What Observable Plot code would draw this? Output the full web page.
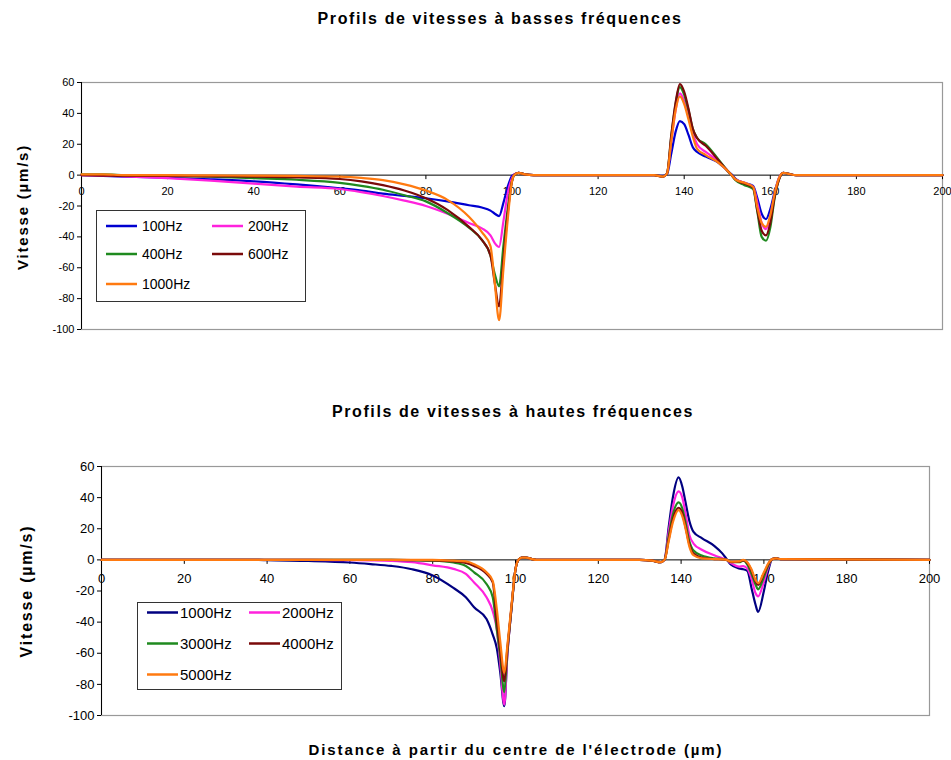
<!DOCTYPE html>
<html><head><meta charset="utf-8">
<script src="https://cdn.jsdelivr.net/npm/d3@7"></script>
<script src="https://cdn.jsdelivr.net/npm/@observablehq/plot@0.6"></script>
<style>
body{margin:0;background:#fff;font-family:"Liberation Sans",Arial,sans-serif;}
#wrap{position:relative;width:951px;height:760px;overflow:hidden;background:#fff;}
.ttl{position:absolute;font-weight:bold;white-space:nowrap;color:#000;transform:translate(-50%,-50%);}
.ylab{position:absolute;font-weight:bold;white-space:nowrap;color:#000;transform:translate(-50%,-50%) rotate(-90deg);}
.chart{position:absolute;left:0;}
.legend{position:absolute;border:1px solid #333;background:#fff;box-sizing:border-box;}
.item{position:absolute;display:flex;align-items:center;transform:translateY(-50%);white-space:nowrap;color:#000;}
.item svg{display:block;}
</style></head><body><div id="wrap"></div>
<script>
// ---------- data ----------
const xTicks = [0, 20, 40, 60, 80, 100, 120, 140, 160, 180, 200];
const yTicks = [-100, -80, -60, -40, -20, 0, 20, 40, 60];

// low frequencies
const lowLabels = ["100Hz", "200Hz", "400Hz", "600Hz", "1000Hz"];
const xLow = [0, 5, 10, 20, 30, 40, 50, 60, 65, 70, 75, 80, 85, 90, 93, 95, 96, 97, 98, 99, 100, 100.5, 101.5, 103, 105, 130, 133, 135, 136, 137, 138, 139, 140, 141, 142, 143, 145, 148, 150, 151, 152, 154, 156, 157, 158, 159, 160, 161, 162, 163, 164, 166, 200];
const v100 = [0, -0.5, -1, -1.7, -2.7, -4, -6, -8.5, -10, -12, -13.5, -15, -17, -19.5, -21, -23, -25, -26.5, -18, -7.5, -0.5, 0.5, 1.5, 0.5, 0, 0, 0, -0.5, 0.5, 14, 28, 35, 33, 26, 18, 15, 12, 8, 3, 0.5, -2.5, -5, -7, -15, -25, -28.5, -22, -11, -2, 1.5, 1, 0, 0];
const v200 = [0, -0.3, -0.8, -2, -3.5, -5.5, -7.5, -9, -11, -13.5, -16.5, -20, -25, -31, -34.5, -39, -44, -46.5, -30, -12, -2, 0.5, 1.5, 0.5, 0, 0, 0, -1, 1, 22, 42, 53, 48, 38, 27, 20, 15, 9, 3, 0, -3, -5, -7.5, -18, -31, -35, -27, -13, -2, 1.5, 1, 0, 0];
const v400 = [0.5, 0.5, 0, -0.5, -1, -2, -3, -5, -7, -9.5, -13, -17, -24.5, -34, -42, -52, -64, -72, -46, -22, -4, 0, 1.5, 0.5, 0, 0, 0, -1, 1, 25, 46, 57, 52, 42, 30, 24, 20, 10, 3, 0, -3.5, -6.5, -9, -24, -40, -42.5, -34, -15, -3, 1.5, 1, 0, 0];
const v600 = [0, -0.3, -0.5, -0.5, -0.8, -1, -1.5, -2.5, -4, -6.5, -10, -15, -22.5, -33.5, -42, -52, -70, -85, -55, -25, -4, 0, 1.5, 0.5, 0, 0, 0, -1, 1, 26, 47, 59, 54, 43, 30, 24, 19, 9.5, 3, 0, -3, -5.5, -8, -23, -36, -39, -31, -14, -3, 1.5, 1, 0, 0];
const v1000 = [0.5, 0.5, 0, 0, -0.2, -0.3, -0.5, -1, -1.8, -3.2, -6, -10, -16, -27, -37, -46, -70, -94, -61, -29, -4, 0, 1.5, 0.5, 0, 0, 0, -1, 1, 22, 42, 51, 46, 36, 25, 17, 13, 8, 3, 0, -3, -5, -7.5, -21, -31, -33.5, -26, -12, -2, 1.5, 1, 0, 0];

// high frequencies
const highLabels = ["1000Hz", "2000Hz", "3000Hz", "4000Hz", "5000Hz"];
const xHigh = [0, 38, 40, 50, 60, 65, 70, 75, 80, 85, 88, 90, 93, 94.5, 95.5, 96.3, 97.3, 98, 99, 100, 100.7, 101.5, 102.5, 104, 105, 130, 133, 135, 136, 137, 138, 139.4, 140.3, 141, 142, 143, 145, 148, 150, 151, 152, 154, 155, 156, 157, 158, 158.6, 160, 161, 162, 163, 164, 200];
const h1000 = [0, 0, -0.2, -0.7, -1.7, -2.7, -3.9, -6, -10, -18, -24, -30.5, -38, -48, -57, -72, -94, -62, -32, -6, 0, 1.5, 1.5, 0.5, 0, 0, -0.5, -1.5, 0, 21, 40, 53, 47, 38, 25, 18, 14, 9, 4, 0.5, -3, -5.5, -6, -7, -18, -29, -33.5, -20, -7.5, 0.5, 1, 0.5, 0];
const h2000 = [0, 0, 0, 0, -0.2, -0.3, -0.6, -1.5, -3.5, -5.8, -9, -14.5, -24, -33, -45, -66, -93, -62, -32, -6, 0, 1.5, 1.5, 0.5, 0, 0, -0.5, -1.5, 0, 18, 34, 44, 40, 31, 16, 10.5, 6.5, 3, 1, 0, -2, -4.3, -4, -5.5, -12, -21.5, -23.5, -14, -5, 0.5, 1, 0.5, 0];
const h3000 = [0, 0, 0, 0, 0, 0, 0, -0.2, -0.5, -1.7, -3.9, -8, -15.5, -24, -45, -62, -85, -60, -32, -6, 0, 1.5, 1.5, 0.5, 0, 0, -0.5, -1.5, 0, 15, 29, 37, 33, 25, 12, 6, 2.8, 1, 0.5, 0, -1.5, -1.5, -0.5, -3, -9, -16, -19, -11, -4, 0.5, 1, 0.5, 0];
const h4000 = [0, 0, 0, 0, 0, 0, 0, -0.1, -0.3, -1, -2, -3.9, -9, -14.5, -40, -58, -78, -58, -31, -6, 0, 1.5, 1.5, 0.5, 0, 0, -0.5, -1.5, 0, 13, 26, 33.5, 30, 22, 10, 4, 1.5, 0.5, 0.3, 0, -1.3, -1.2, -0.3, -2, -7, -14, -16, -9, -3, 0.5, 1, 0.5, 0];
const h5000 = [0, 0, 0, 0, 0, 0, 0, 0, 0, -0.5, -1, -2.8, -8, -13.5, -32, -52, -72.5, -56, -30, -6, 0, 1.5, 1.5, 0.5, 0, 0, -0.5, -1.5, 0, 12, 24, 32, 28, 21, 8.5, 3, 1, 0.5, 0.3, 0, -1.2, -1, 0, -1.5, -6, -13, -15, -8, -2.5, 0.5, 1, 0.5, 0];

// ---------- styles ----------
const lowColors = ["#0000d0", "#ff22dd", "#1f8a1f", "#7a0a0a", "#ff7a10"];
const highColors = ["#000080", "#ff22dd", "#1f8a1f", "#7a0a0a", "#ff7a10"];

function rows(xs, series, labels) {
  const out = [];
  series.forEach((ys, k) => xs.forEach((x, i) => out.push({x, y: ys[i], s: labels[k]})));
  return out;
}

const tickSymbol = {draw(ctx) { ctx.moveTo(0, 0); ctx.lineTo(0, 4); }};

function chart(data, labels, colors, o) {
  return Plot.plot({
    width: 951, height: o.height,
    marginTop: o.mt, marginBottom: o.mb, marginLeft: o.ml, marginRight: o.mr,
    style: {fontFamily: "Liberation Sans, Arial, sans-serif", background: "white", overflow: "visible"},
    x: {domain: [0, 200], axis: null},
    y: {domain: [-100, 60], axis: null},
    color: {domain: labels, range: colors},
    marks: [
      Plot.frame({stroke: "#999", strokeWidth: 1.2}),
      Plot.ruleX([0], {stroke: "#000"}),
      Plot.ruleY([0], {stroke: "#000"}),
      Plot.axisY(yTicks, {tickSize: 4, tickPadding: 3, fontSize: o.fs, tickFormat: d => String(d), label: null, stroke: "#000", fill: "#000"}),
      Plot.dot(xTicks, {x: d => d, y: () => 0, symbol: tickSymbol, stroke: "#000", fill: "none", strokeWidth: 1}),
      Plot.text(xTicks, {x: d => d, y: () => 0, text: d => String(d), dy: o.tdy, fontSize: o.fs, fill: "#000"}),
      Plot.line(data, {x: "x", y: "y", z: "s", stroke: "s", curve: "monotone-x", strokeWidth: 2.2})
    ]
  });
}

const wrap = document.getElementById("wrap");
function addDiv(cls, text, css) {
  const d = document.createElement("div");
  d.className = cls; d.textContent = text;
  Object.assign(d.style, css);
  wrap.appendChild(d); return d;
}

// top chart
const c1 = chart(rows(xLow, [v100, v200, v400, v600, v1000], lowLabels), lowLabels, lowColors,
  {height: 345, mt: 82, mb: 16, ml: 81, mr: 9, fs: 11, tdy: 16});
c1.classList.add("chart"); c1.style.top = "0px"; wrap.appendChild(c1);

// bottom chart
const c2 = chart(rows(xHigh, [h1000, h2000, h3000, h4000, h5000], highLabels), highLabels, highColors,
  {height: 380, mt: 86, mb: 45, ml: 101, mr: 22, fs: 13, tdy: 19});
c2.classList.add("chart"); c2.style.top = "380px"; wrap.appendChild(c2);

// titles
addDiv("ttl", "Profils de vitesses à basses fréquences", {left: "500px", top: "19px", fontSize: "16px", letterSpacing: "1.6px"});
addDiv("ttl", "Profils de vitesses à hautes fréquences", {left: "513px", top: "412px", fontSize: "16px", letterSpacing: "1.6px"});
addDiv("ttl", "Distance à partir du centre de l'électrode (µm)", {left: "516px", top: "749px", fontSize: "15px", letterSpacing: "1.9px"});
addDiv("ylab", "Vitesse (µm/s)", {left: "22px", top: "207px", fontSize: "15px", letterSpacing: "1.8px"});
addDiv("ylab", "Vitesse (µm/s)", {left: "27px", top: "591px", fontSize: "16px", letterSpacing: "1.8px"});

// legends
function legend(labels, colors, o) {
  const box = document.createElement("div");
  box.className = "legend";
  Object.assign(box.style, {left: o.left + "px", top: o.top + "px", width: o.w + "px", height: o.h + "px"});
  labels.forEach((lab, i) => {
    const col = i % 2, row = Math.floor(i / 2);
    const it = document.createElement("div");
    it.className = "item";
    it.style.left = o.cols[col] + "px";
    it.style.top = o.rows[row] + "px";
    it.style.fontSize = o.fs + "px";
    it.innerHTML = `<svg width="${o.sw + 2}" height="6"><line x1="0" x2="${o.sw}" y1="3" y2="3" stroke="${colors[i]}" stroke-width="2.5"/></svg><span style="margin-left:${o.gap}px">${lab}</span>`;
    box.appendChild(it);
  });
  wrap.appendChild(box);
}
legend(lowLabels, lowColors, {left: 96, top: 210, w: 210, h: 92, cols: [9, 115], rows: [15, 43, 73], sw: 31, gap: 3, fs: 14});
legend(highLabels, highColors, {left: 137, top: 602, w: 205, h: 88, cols: [9, 111], rows: [9, 40, 71], sw: 31, gap: 0, fs: 15});
</script>
</body></html>
